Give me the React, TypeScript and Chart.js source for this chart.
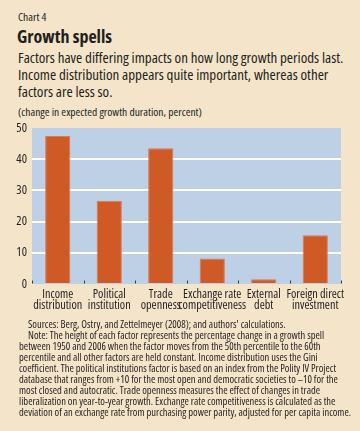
import React, { useEffect, useRef } from "react";
import { Chart, registerables } from "chart.js";

Chart.register(...registerables);

const categories: string[][] = [
  ["Income", "distribution"],
  ["Political", "institution"],
  ["Trade", "openness"],
  ["Exchange rate", "competitiveness"],
  ["External", "debt"],
  ["Foreign direct", "investment"],
];
const values: number[] = [47.4, 26.7, 43.5, 8.2, 1.5, 15.6];
const yTicks: number[] = [0, 10, 20, 30, 40, 50];

const BG = "#f4e4c9";
const PLOT_BG = "#bdd0e6";
const BAR = "#d05a26";
const TEXT = "#231f20";
const FONT = "'Open Sans', sans-serif";

const plotBgPlugin = {
  id: "plotBg",
  beforeDraw(chart: any) {
    const { ctx, chartArea } = chart;
    ctx.save();
    ctx.fillStyle = PLOT_BG;
    ctx.fillRect(chartArea.left, chartArea.top, chartArea.right - chartArea.left, chartArea.bottom - chartArea.top);
    ctx.restore();
  },
  afterDatasetsDraw(chart: any) {
    const { ctx, chartArea } = chart;
    const xs = chart.scales.x;
    ctx.save();
    ctx.strokeStyle = "#3a3a3a";
    ctx.lineWidth = 1;
    for (let i = 0; i <= categories.length; i++) {
      const px = Math.round(xs.getPixelForValue(i - 0.5)) + 0.5;
      ctx.beginPath();
      ctx.moveTo(px, chartArea.bottom - 3.5);
      ctx.lineTo(px, chartArea.bottom - 0.5);
      ctx.stroke();
    }
    ctx.restore();
  },
};

function BarChart() {
  const ref = useRef<HTMLCanvasElement>(null);
  useEffect(() => {
    if (!ref.current) return;
    const chart = new Chart(ref.current, {
      type: "bar",
      data: {
        labels: categories,
        datasets: [
          {
            data: values,
            backgroundColor: BAR,
            borderColor: "#de7a50",
            borderWidth: 1,
            categoryPercentage: 1,
            barPercentage: 0.49,
          },
        ],
      },
      options: {
        animation: false,
        responsive: false,
        maintainAspectRatio: false,
        layout: { padding: { left: 0, right: 19, top: 18, bottom: 0 } },
        plugins: { legend: { display: false }, tooltip: { enabled: false } },
        scales: {
          x: {
            grid: { display: false, drawTicks: false },
            border: { display: false },
            ticks: {
              color: TEXT,
              font: { family: FONT, size: 12.2, weight: "condensed" as any, lineHeight: 0.88 },
              maxRotation: 0,
              autoSkip: false,
              padding: 5.5,
            },
            afterFit(scale: any) {
              scale.height = 41;
            },
          },
          y: {
            min: 0,
            max: 50,
            afterBuildTicks(scale: any) {
              scale.ticks = yTicks.map((v) => ({ value: v }));
            },
            grid: {
              drawTicks: false,
              lineWidth: 2,
              color: (ctx: any) =>
                ctx.tick && ctx.tick.value > 0 && ctx.tick.value < 50 ? "#ffffff" : "rgba(0,0,0,0)",
            },
            border: { display: false },
            ticks: {
              color: TEXT,
              font: { family: FONT, size: 12.5, weight: "condensed" as any },
              padding: 5,
            },
            afterFit(scale: any) {
              scale.width = 32;
            },
          },
        },
      },
      plugins: [plotBgPlugin],
    });
    return () => chart.destroy();
  }, []);
  return <canvas ref={ref} width={360} height={215} style={{ position: "absolute", left: 0, top: 110 }} />;
}

const noteLines: string[] = [
  "Note: The height of each factor represents the percentage change in a growth spell",
  "between 1950 and 2006 when the factor moves from the 50th percentile to the 60th",
  "percentile and all other factors are held constant. Income distribution uses the Gini",
  "coefficient. The political institutions factor is based on an index from the Polity IV Project",
  "database that ranges from +10 for the most open and democratic societies to –10 for the",
  "most closed and autocratic. Trade openness measures the effect of changes in trade",
  "liberalization on year-to-year growth. Exchange rate competitiveness is calculated as the",
  "deviation of an exchange rate from purchasing power parity, adjusted for per capita income.",
];

export default function App() {
  const cond = { fontFamily: FONT, fontStretch: "condensed" as const, whiteSpace: "nowrap" as const };
  return (
    <div
      style={{
        position: "absolute",
        left: 0,
        top: 0,
        width: 360,
        height: 431,
        background: BG,
        color: TEXT,
        overflow: "hidden",
        ...cond,
      }}
    >
      <div style={{ position: "absolute", left: 18, top: 10, fontSize: 11.5, lineHeight: "13px" }}>Chart 4</div>
      <div
        style={{
          position: "absolute",
          left: 17,
          top: 26,
          fontSize: 18,
          lineHeight: "20px",
          fontWeight: 700,
          fontStretch: "semi-condensed",
        }}
      >
        Growth spells
      </div>
      <div style={{ position: "absolute", left: 18, top: 48.5, fontSize: 15, lineHeight: "17px" }}>
        Factors have differing impacts on how long growth periods last.
        <br />
        Income distribution appears quite important, whereas other
        <br />
        factors are less so.
      </div>
      <div style={{ position: "absolute", left: 18, top: 105, fontSize: 11.5, lineHeight: "13px" }}>
        (change in expected growth duration, percent)
      </div>
      <BarChart />
      <div style={{ position: "absolute", left: 19, top: 319, fontSize: 10.5, lineHeight: "11px" }}>
        <div style={{ paddingLeft: 9 }}>Sources: Berg, Ostry, and Zettelmeyer (2008); and authors' calculations.</div>
        <div style={{ paddingLeft: 9 }}>{noteLines[0]}</div>
        {noteLines.slice(1).map((l, i) => (
          <div key={i}>{l}</div>
        ))}
      </div>
    </div>
  );
}
